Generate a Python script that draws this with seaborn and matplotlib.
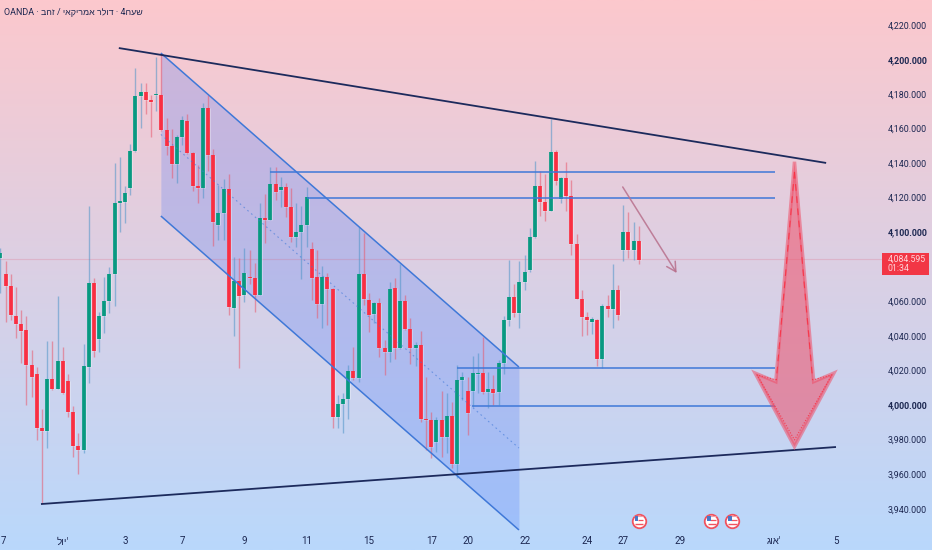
#!/usr/bin/env python3
# -*- coding: utf-8 -*-
import numpy as np
import pandas as pd
import matplotlib
matplotlib.use("Agg")
import matplotlib.pyplot as plt
from matplotlib.patches import Polygon, Rectangle
import seaborn as sns

# 4 hour candles, one value per bar
opens = [4085.1, 4075.8, 4068.9, 4051.5, 4046.9, 4043.4, 4023.2, 4018.0, 3986.7, 3985.0,
         4015.1, 4009.3, 4025.5, 4013.9, 3996.0, 3976.3, 3974.0, 4022.0, 4070.6, 4038.2,
         4051.5, 4060.2, 4075.8, 4116.9, 4117.5, 4125.6, 4147.0, 4178.8, 4181.2, 4176.5,
         4179.4, 4179.4, 4159.2, 4149.9, 4139.5, 4155.1, 4164.4, 4145.9, 4126.8, 4125.6,
         4171.9, 4144.7, 4104.2, 4111.1, 4125.0, 4056.2, 4071.8, 4063.7, 4074.1, 4073.5,
         4063.7, 4108.2, 4107.1, 4127.9, 4124.4, 4126.2, 4114.6, 4097.2, 4100.1, 4104.2,
         4090.3, 4074.1, 4058.5, 4074.1, 4067.2, 3993.1, 4000.6, 4003.5, 4019.7, 4015.6,
         4075.8, 4060.8, 4052.7, 4059.1, 4033.0, 4030.7, 4067.7, 4033.0, 4060.2, 4044.0,
         4033.0, 4034.8, 3991.9, 3991.3, 3978.6, 3991.3, 3981.5, 3993.7, 3965.9, 4014.5,
         4008.1, 4008.1, 4018.0, 4018.5, 4007.6, 4009.3, 4007.6, 4024.3, 4049.2, 4062.5,
         4053.3, 4071.2, 4078.1, 4097.2, 4126.8, 4117.5, 4112.3, 4146.4, 4119.2, 4131.4,
         4121.0, 4093.2, 4061.4, 4050.9, 4048.1, 4049.2, 4026.6, 4057.3, 4055.6, 4066.6,
         4089.7, 4100.1, 4089.7, 4094.9]
highs = [4090.9, 4083.4, 4075.8, 4068.3, 4055.0, 4051.5, 4031.9, 4022.0, 3997.7, 4037.1,
         4037.1, 4063.1, 4033.6, 4018.0, 3999.4, 3983.8, 4035.3, 4115.2, 4073.5, 4053.8,
         4074.1, 4079.9, 4140.1, 4143.5, 4126.8, 4151.1, 4195.0, 4186.4, 4186.4, 4179.4,
         4201.4, 4203.7, 4166.1, 4159.7, 4156.3, 4167.3, 4168.4, 4146.2, 4138.9, 4174.8,
         4179.4, 4148.2, 4127.3, 4130.8, 4133.7, 4085.7, 4085.1, 4090.9, 4089.7, 4082.2,
         4116.9, 4122.1, 4137.8, 4137.8, 4132.0, 4128.5, 4125.6, 4116.9, 4115.2, 4126.2,
         4094.4, 4089.7, 4080.5, 4076.4, 4067.5, 4005.8, 4007.0, 4023.2, 4033.6, 4103.0,
         4099.6, 4064.8, 4059.4, 4061.9, 4037.6, 4071.2, 4073.5, 4081.6, 4063.7, 4050.4,
         4036.5, 4042.8, 4016.2, 3996.0, 3993.1, 4008.1, 4007.0, 4001.8, 4023.2, 4019.1,
         4016.2, 4028.4, 4030.1, 4039.4, 4019.1, 4017.4, 4026.1, 4051.5, 4083.9, 4070.0,
         4083.4, 4086.8, 4102.5, 4141.2, 4135.4, 4133.7, 4165.5, 4147.6, 4131.7, 4140.7,
         4130.2, 4099.0, 4066.6, 4053.8, 4050.9, 4049.5, 4058.5, 4063.7, 4081.6, 4069.5,
         4115.8, 4111.7, 4105.9, 4103.6]
lows = [4064.8, 4048.1, 4049.2, 4038.8, 4024.3, 4000.0, 4004.7, 3979.8, 3943.3, 3975.2,
        4008.7, 4009.0, 4006.4, 3993.1, 3969.9, 3960.1, 3972.3, 4012.8, 4027.8, 4030.7,
        4041.7, 4053.3, 4057.3, 4100.1, 4105.4, 4121.6, 4146.5, 4160.3, 4168.4, 4155.1,
        4170.2, 4158.7, 4144.7, 4131.4, 4128.5, 4150.5, 4145.5, 4123.9, 4116.9, 4119.8,
        4135.4, 4092.0, 4095.5, 4095.5, 4052.1, 4039.9, 4021.4, 4059.6, 4070.0, 4053.8,
        4063.4, 4093.8, 4106.8, 4118.7, 4114.6, 4108.8, 4094.4, 4091.5, 4073.0, 4091.5,
        4060.8, 4050.4, 4044.6, 4046.3, 3986.7, 3986.7, 3983.8, 3991.9, 4014.5, 4013.3,
        4057.9, 4042.3, 4047.5, 4027.8, 4017.4, 4024.9, 4026.6, 4032.7, 4043.7, 4023.8,
        4022.6, 3990.2, 3974.0, 3969.4, 3972.8, 3969.9, 3972.3, 3963.6, 3957.8, 4002.9,
        3982.7, 3998.9, 4007.0, 4006.4, 3998.3, 4000.0, 4000.0, 4018.0, 4045.7, 4050.9,
        4044.6, 4066.6, 4077.0, 4096.9, 4109.4, 4106.5, 4112.0, 4127.3, 4116.9, 4112.3,
        4086.8, 4061.1, 4039.9, 4040.5, 4041.1, 4022.6, 4021.4, 4050.9, 4044.6, 4049.2,
        4083.4, 4085.1, 4083.9, 4081.6]
closes = [4088.0, 4068.9, 4052.1, 4046.9, 4042.8, 4023.2, 4016.2, 3986.7, 3985.0, 4015.1,
          4009.3, 4025.5, 4007.0, 3996.0, 3976.3, 3974.0, 4022.6, 4070.6, 4031.3, 4051.5,
          4060.2, 4075.8, 4116.9, 4118.1, 4122.7, 4147.0, 4178.8, 4181.2, 4176.5, 4175.4,
          4180.0, 4159.2, 4149.9, 4139.5, 4155.1, 4165.0, 4145.9, 4126.8, 4125.6, 4171.9,
          4144.7, 4105.9, 4111.1, 4125.0, 4056.7, 4071.8, 4063.1, 4076.4, 4073.5, 4063.7,
          4108.2, 4107.1, 4127.9, 4123.3, 4126.2, 4114.6, 4097.2, 4100.1, 4104.2, 4120.4,
          4073.5, 4058.5, 4074.1, 4067.2, 3993.1, 4000.6, 4003.5, 4019.7, 4015.6, 4075.8,
          4061.4, 4052.1, 4059.1, 4033.0, 4030.7, 4067.2, 4033.0, 4060.2, 4044.0, 4033.0,
          4034.8, 3991.9, 3991.3, 3975.7, 3991.3, 3981.5, 3993.7, 3965.9, 4014.5, 4016.2,
          3995.4, 4018.5, 4018.5, 4007.6, 4009.3, 4007.0, 4024.3, 4049.2, 4062.5, 4053.3,
          4071.2, 4077.0, 4097.2, 4126.8, 4117.5, 4112.3, 4146.4, 4129.7, 4131.4, 4121.0,
          4093.2, 4061.4, 4050.9, 4049.2, 4049.8, 4026.6, 4057.3, 4055.6, 4066.6, 4052.1,
          4100.1, 4089.7, 4094.9, 4083.9]

# price axis
price_ticks = [4220, 4200, 4180, 4160, 4140, 4120, 4100, 4060, 4040, 4020, 4000, 3980, 3960, 3940]
bold_ticks = [4200, 4100, 4000]
last_price = 4084.595
countdown = "01:34"

# date axis (the chart shows Hebrew in visual order)
date_pos = [0.5, 12, 24, 35, 47, 59, 71, 83, 90, 101, 113, 120, 131, 149, 161]
date_lbl = ["7", "יול"[::-1] + "'", "3", "7", "9", "11", "15", "17", "20", "22", "24", "27", "29",
            "אוג"[::-1] + "'", "5"]
title = "OANDA · " + "זהב"[::-1] + " / " + "דולר אמריקאי"[::-1] + " · 4" + "שעה"[::-1]

# drawings, bar index and price
trend_top_x, trend_top_y = [22.8, 159.1], [4206.6, 4140.1]
trend_low_x, trend_low_y = [7.8, 161.0], [3942.7, 3975.7]
channel_x = [30.9, 99.9]
channel_up = [4203.7, 4022.0]
channel_mid = [4156.6, 3975.1]
channel_low = [4109.4, 3927.7]
levels = [4134.9, 4119.8, 4021.4, 3999.4]
level_start = [51.9, 59.0, 88.0, 90.9]
level_end = 149.2
small_arrow_x, small_arrow_y = [119.9, 130.3], [4126.2, 4076.4]
big_arrow_x = [153.0, 149.4, 145.4, 153.0, 160.6, 156.7]
big_arrow_y = [4140.8, 4013.5, 4018.5, 3975.9, 4018.5, 4013.5]
inner_arrow_x = [153.0, 149.5, 145.8, 153.0, 160.2, 156.5]
inner_arrow_y = [4134.9, 4014.5, 4017.4, 3979.8, 4017.4, 4014.5]
news_x = [123, 137, 141]
news_y = 3932.9

GREEN = "#089981"
RED = "#f92f42"
BLUE = "#3f78d8"
NAVY = "#1c2a5c"
TEXT = "#1b2650"

sns.set_theme(style="white")
plt.rcParams["font.family"] = ["Roboto", "Liberation Sans", "DejaVu Sans"]
plt.rcParams["lines.solid_capstyle"] = "butt"

fig = plt.figure(figsize=(9.32, 5.5), dpi=100)
ax = fig.add_axes([0, 0, 1, 1])
xlim = (-0.096, 179.5)
ylim = (3916.1, 4234.4)

# pink to blue background
top = np.array([252, 200, 205]) / 255
bottom = np.array([185, 216, 252]) / 255
t = np.linspace(0, 1, 256)[:, None, None]
ax.imshow(top * (1 - t) + bottom * t, extent=[*xlim, *ylim], aspect="auto", zorder=0)

# channel
ax.fill_between(channel_x, channel_up, channel_low, color="#2962ff", alpha=0.2, lw=0, zorder=1)

ax.axhline(last_price, color="#e0506a", alpha=0.2, lw=0.9, xmax=0.947, zorder=1)

# candles
idx = np.arange(len(opens))
up = np.array(closes) >= np.array(opens)
direction = np.where(up, "up", "down")
wicks = pd.concat([
    pd.DataFrame({"bar": idx, "price": highs, "dir": direction}),
    pd.DataFrame({"bar": idx, "price": lows, "dir": direction}),
])
bodies = pd.concat([
    pd.DataFrame({"bar": idx, "price": opens, "dir": direction}),
    pd.DataFrame({"bar": idx, "price": closes, "dir": direction}),
])
sns.lineplot(data=wicks, x="bar", y="price", units="bar", hue="dir", estimator=None, sort=False,
             palette={"up": "#4d94c8", "down": "#e8586c"}, alpha=0.55, linewidth=1.0,
             legend=False, ax=ax, zorder=2)
sns.lineplot(data=bodies, x="bar", y="price", units="bar", hue="dir", estimator=None, sort=False,
             palette={"up": "white", "down": "white"}, alpha=0.3, linewidth=3.6,
             legend=False, ax=ax, zorder=2.5)
sns.lineplot(data=bodies, x="bar", y="price", units="bar", hue="dir", estimator=None, sort=False,
             palette={"up": GREEN, "down": RED}, linewidth=2.7,
             legend=False, ax=ax, zorder=3)

# channel borders and levels
ax.plot(channel_x, channel_up, color=BLUE, lw=1.1, zorder=4)
ax.plot(channel_x, channel_low, color=BLUE, lw=1.1, zorder=4)
ax.plot(channel_x, channel_mid, color=BLUE, lw=0.8, ls=(0, (1.5, 3)), alpha=0.6, zorder=4)
for lvl, start in zip(levels, level_start):
    ax.plot([start, level_end], [lvl, lvl], color=BLUE, lw=1.1, zorder=4)

# trend lines
ax.plot(trend_top_x, trend_top_y, color=NAVY, lw=1.3, zorder=5)
ax.plot(trend_low_x, trend_low_y, color=NAVY, lw=1.3, zorder=5)

# arrows
ax.annotate("", xy=(small_arrow_x[1], small_arrow_y[1]), xytext=(small_arrow_x[0], small_arrow_y[0]),
            arrowprops=dict(arrowstyle="->,head_length=0.55,head_width=0.3", color="#b8708c",
                            lw=1.1, alpha=0.85, shrinkA=0, shrinkB=0), zorder=5)
ax.add_patch(Polygon(np.column_stack([big_arrow_x, big_arrow_y]), closed=True, facecolor="#ef4f68",
                     edgecolor="#ef4f68", alpha=0.55, lw=2.5, joinstyle="miter", zorder=6))
inner_xy = np.column_stack([inner_arrow_x, inner_arrow_y])
ax.plot(inner_xy[[0, 1], 0], inner_xy[[0, 1], 1], color="#f92f42", lw=0.8, ls=(0, (6, 5)), alpha=0.85, zorder=7)
ax.plot(inner_xy[[0, 5], 0], inner_xy[[0, 5], 1], color="#f92f42", lw=0.8, ls=(0, (6, 5)), alpha=0.85, zorder=7)
ax.plot(inner_xy[1:6, 0], inner_xy[1:6, 1], color="#f92f42", lw=0.8, ls=(0, (1, 1.5)), alpha=0.85, zorder=7)

# news flags
for nx in news_x:
    ax.scatter([nx], [news_y], s=95, facecolor="white", edgecolor="#f0525f", linewidth=1.3, zorder=8)
    ax.plot([nx - 0.75, nx + 0.85], [news_y - 1.6, news_y - 1.6], color="#f0525f", lw=1.0, zorder=9)
    ax.plot([nx - 0.2, nx + 0.85], [news_y + 0.6, news_y + 0.6], color="#f0525f", lw=0.9, zorder=9)
    ax.plot([nx - 0.85, nx + 0.85], [news_y + 3.0, news_y + 3.0], color="#f0a0a8", lw=0.8, zorder=9)
    ax.add_patch(Rectangle((nx - 0.8, news_y - 0.2), 0.7, 2.9, facecolor="#4a78c8", lw=0, zorder=10))

# last price box
ax.add_patch(Rectangle((169.9, 4075.2), 9.0, 12.6, facecolor="#f23645", lw=0, zorder=8))
ax.text(170.9, last_price, f"{last_price:,.3f}", color="#ffd5da", fontsize=6.3, va="center", zorder=9)
ax.text(170.9, 4079.0, countdown, color="#ffd5da", fontsize=6.3, va="center", zorder=9)

ax.set_xlim(*xlim)
ax.set_ylim(*ylim)
for side in ax.spines.values():
    side.set_visible(False)

ax.yaxis.tick_right()
ax.set_yticks(price_ticks)
ax.set_yticklabels([f"{p:,.3f}" for p in price_ticks], color=TEXT, fontsize=6.4)
for lab, p in zip(ax.get_yticklabels(), price_ticks):
    lab.set_fontweight("bold" if p in bold_ticks else "normal")
    lab.set_horizontalalignment("left")
ax.tick_params(axis="y", length=0, pad=-31.7)
ax.set_xticks(date_pos)
ax.set_xticklabels(date_lbl, color=TEXT, fontsize=7)
ax.tick_params(axis="x", length=0, pad=-9.8)
ax.set_xlabel("")
ax.set_ylabel("")

ax.text(4 / 932, 1 - 12.5 / 550, title, transform=ax.transAxes, color=TEXT, fontsize=6.4, va="center", zorder=9)

fig.savefig("out.png", dpi=100)
